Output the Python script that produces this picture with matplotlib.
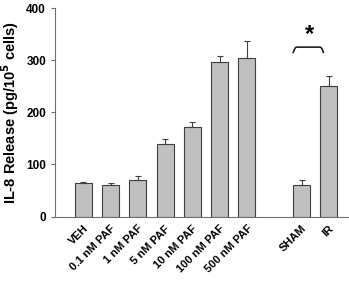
import numpy as np
import matplotlib
matplotlib.use("Agg")
import matplotlib.pyplot as plt
import matplotlib.transforms as mtransforms

plt.rcParams['font.family'] = ['Liberation Sans', 'DejaVu Sans']

labels = ["VEH", "0.1 nM PAF", "1 nM PAF", "5 nM PAF", "10 nM PAF",
          "100 nM PAF", "500 nM PAF", "SHAM", "IR"]
positions = [0, 1, 2, 3, 4, 5, 6, 8, 9]
values = [64, 61, 71, 140, 172, 297, 304, 61, 250]
errors = [3, 4, 7, 8, 9, 11, 33, 9, 20]

fig = plt.figure(figsize=(3.49, 2.81), dpi=100)
ax = fig.add_axes([0.158, 0.229, 0.842, 0.7425])

ax.bar(positions, values, width=0.62, color="#c0c0c0", edgecolor="#404040",
       linewidth=0.8, zorder=2)
ax.errorbar(positions, values, yerr=[np.zeros(len(errors)), errors], fmt="none",
            ecolor="#404040", elinewidth=0.8, capsize=2.5, capthick=0.8, zorder=3)

# significance bracket
x0, x1 = 7.7, 8.8
bx = np.linspace(x0, x1, 60)
edge = np.clip(1 - np.minimum(bx - x0, x1 - bx) / 0.12, 0, 1)
by = 325 - 10 * edge ** 2
ax.plot(bx, by, color="#202020", linewidth=1.2)
ax.text(8.3, 350, "*", ha="center", va="center", fontsize=17, fontweight="bold")

ax.set_xlim(-1.03, 9.74)
ax.set_ylim(0, 400)
ax.set_yticks([0, 100, 200, 300, 400])
ax.set_xticks(positions)
ax.set_xticklabels(labels, rotation=45, ha="right", rotation_mode="anchor",
                   fontsize=8, fontweight="bold")
offset = mtransforms.ScaledTranslation(6 / 72, 0, fig.dpi_scale_trans)
for t in ax.get_xticklabels():
    t.set_transform(t.get_transform() + offset)
ax.tick_params(axis="x", length=0, pad=5)
ax.tick_params(axis="y", labelsize=8.5, length=3, width=0.8, color="#707070")
for t in ax.get_yticklabels():
    t.set_fontweight("bold")

ax.spines["top"].set_visible(False)
ax.spines["right"].set_visible(False)
ax.spines["left"].set_color("#707070")
ax.spines["bottom"].set_color("#707070")
ax.set_ylabel("IL-8 Release (pg/10$^{\\mathbf{5}}$ cells)", fontsize=10.5,
              fontweight="bold", labelpad=4)

fig.savefig("out.png", dpi=100)
